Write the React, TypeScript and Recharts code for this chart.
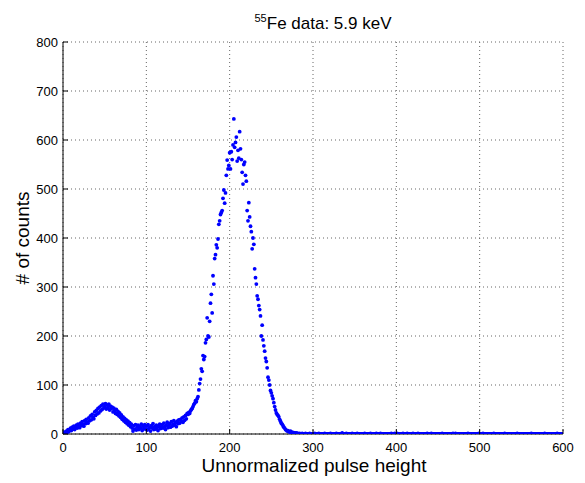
import React from "react";
import { ScatterChart, Scatter, XAxis, YAxis, CartesianGrid } from "recharts";

// histogram counts, one value per pulse-height bin (bin index = pulse height)
const counts000 = [
  2, 0, 4, 1, 6, 3, 9, 5, 8, 12,
  7, 14, 10, 16, 9, 13, 18, 12, 20, 15,
  13, 22, 17, 25, 19, 16, 27, 21, 30, 24,
  22, 33, 27, 37, 29, 40, 34, 31, 45, 38,
  48, 41, 52, 43, 55, 47, 58, 50, 61, 53,
  56, 62, 51, 59, 54, 61, 49, 57, 52, 55,
  45, 53, 48, 42, 50, 40, 46, 37, 43, 34,
  39, 30, 35, 27, 32, 24, 29, 21, 26, 18,
  23, 15, 20, 12, 6, 17, 10, 19, 8, 14,
  18, 9, 15, 12, 20, 7, 16, 11, 19, 10,
];
const counts100 = [
  16, 8, 19, 11, 14, 6, 17, 12, 21, 9,
  15, 10, 18, 13, 7, 16, 20, 11, 14, 19,
  12, 22, 15, 9, 18, 24, 13, 17, 21, 14,
  25, 16, 20, 27, 18, 23, 15, 26, 21, 29,
  22, 30, 26, 33, 24, 35, 28, 38, 31, 42,
  40, 44, 42, 47, 50, 52, 56, 60, 63, 68,
  66, 72, 76, 90, 103, 112, 133, 128, 160, 152,
  158, 186, 193, 237, 200, 198, 230, 267, 285, 247,
  323, 306, 358, 366, 386, 380, 398, 428, 435, 448,
  452, 456, 481, 498, 471, 492, 528, 559, 541, 548,
];
const counts200 = [
  574, 541, 576, 560, 590, 643, 585, 595, 606, 557,
  579, 563, 617, 582, 560, 534, 510, 550, 555, 528,
  516, 456, 435, 472, 443, 424, 413, 378, 400, 387,
  337, 319, 306, 282, 275, 262, 254, 241, 200, 222,
  192, 180, 169, 155, 148, 135, 116, 110, 100, 89,
  84, 78, 72, 64, 56, 49, 43, 40, 38, 35,
  30, 26, 22, 20, 17, 14, 12, 9, 8, 6,
  7, 5, 4, 6, 3, 4, 2, 3, 2, 1,
  2, 1, 1, 0, 1, 0, 0, 1, 0, 0,
  0, 1, 0, 0, 0, 0, 1, 0, 0, 0,
];
const counts300 = [
  0, 0, 1, 0, 0, 0, 0, 1, 0, 0,
  0, 0, 0, 0, 1, 0, 0, 0, 0, 0,
  0, 1, 0, 0, 0, 0, 0, 0, 1, 0,
  0, 0, 0, 0, 0, 2, 0, 0, 0, 0,
  1, 0, 0, 0, 0, 0, 0, 1, 0, 0,
  0, 0, 0, 1, 0, 0, 0, 0, 0, 0,
  0, 0, 1, 0, 0, 0, 0, 0, 0, 1,
  0, 0, 0, 0, 0, 0, 1, 0, 0, 0,
  0, 1, 0, 0, 0, 0, 0, 0, 0, 0,
  0, 0, 0, 0, 1, 0, 0, 0, 1, 0,
];
const counts400 = [
  0, 1, 0, 0, 0, 0, 0, 0, 1, 0,
  0, 0, 0, 1, 0, 0, 0, 0, 0, 0,
  1, 0, 0, 0, 0, 0, 1, 0, 0, 0,
  0, 0, 0, 0, 0, 0, 0, 1, 0, 0,
  0, 0, 1, 0, 0, 0, 0, 0, 0, 0,
  0, 0, 0, 0, 0, 1, 0, 0, 0, 0,
  0, 0, 0, 0, 0, 0, 0, 0, 1, 0,
  0, 1, 0, 0, 0, 0, 0, 0, 0, 0,
  0, 0, 0, 0, 0, 0, 1, 0, 0, 0,
  0, 0, 0, 0, 0, 0, 0, 0, 0, 1,
];
const counts500 = [
  0, 0, 0, 0, 1, 0, 0, 0, 0, 0,
  0, 0, 0, 0, 0, 0, 0, 1, 0, 0,
  0, 0, 0, 0, 0, 0, 0, 0, 0, 0,
  1, 0, 0, 0, 0, 0, 0, 0, 0, 0,
  0, 0, 0, 0, 0, 1, 0, 0, 0, 0,
  0, 0, 0, 0, 0, 0, 0, 0, 0, 0,
  0, 0, 1, 0, 0, 0, 0, 0, 0, 0,
  0, 0, 0, 0, 0, 0, 0, 0, 1, 0,
  0, 0, 0, 0, 0, 0, 0, 0, 0, 0,
  0, 0, 0, 1, 0, 0, 0, 0, 0, 0,
];

const xTicks = [0, 100, 200, 300, 400, 500, 600];
const yTicks = [0, 100, 200, 300, 400, 500, 600, 700, 800];

const data = [...counts000, ...counts100, ...counts200, ...counts300, ...counts400, ...counts500].map(
  (c, i) => ({ x: i, y: c })
);

const FONT = '"Liberation Sans", Arial, Helvetica, sans-serif';
const X_MARGIN = 9;
const Y_MARGIN = 5;
const TICK_LEN = 5;

const BottomTick = (props: any) => {
  const { x, y, payload } = props;
  const axisY = y - X_MARGIN;
  return (
    <g>
      <line x1={x} x2={x} y1={axisY} y2={axisY - TICK_LEN} stroke="#000" />
      <text x={x} y={y} dy="0.71em" textAnchor="middle" fontSize={13} fontFamily={FONT} fill="#000">
        {payload.value}
      </text>
    </g>
  );
};

const LeftTick = (props: any) => {
  const { x, y, payload } = props;
  const axisX = x + Y_MARGIN;
  return (
    <g>
      <line x1={axisX} x2={axisX + TICK_LEN} y1={y} y2={y} stroke="#000" />
      <text x={x} y={y} dy="0.355em" textAnchor="end" fontSize={13} fontFamily={FONT} fill="#000">
        {payload.value}
      </text>
    </g>
  );
};

const TopTick = (props: any) => {
  const { x, y } = props;
  return <line x1={x} x2={x} y1={y} y2={y + TICK_LEN} stroke="#000" />;
};

const RightTick = (props: any) => {
  const { x, y } = props;
  return <line x1={x} x2={x - TICK_LEN} y1={y} y2={y} stroke="#000" />;
};

const Dot = (props: any) => {
  const { cx, cy } = props;
  return <circle cx={cx} cy={cy} r={1.9} fill="#0000ff" />;
};

export default function App() {
  return (
    <div style={{ position: "relative", width: 585, height: 483, background: "#fff" }}>
      <style>{"body{margin:0;}"}</style>
      <ScatterChart width={585} height={483} margin={{ top: 42, right: 22, bottom: 19, left: 13 }}>
        <CartesianGrid stroke="#666" strokeDasharray="1 3" />
        <XAxis
          type="number"
          dataKey="x"
          domain={[0, 600]}
          ticks={xTicks}
          interval={0}
          height={30}
          tickSize={0}
          tickMargin={X_MARGIN}
          tick={BottomTick}
          axisLine={{ stroke: "#000" }}
          allowDataOverflow
        />
        <YAxis
          type="number"
          dataKey="y"
          domain={[0, 800]}
          ticks={yTicks}
          interval={0}
          width={50}
          tickSize={0}
          tickMargin={Y_MARGIN}
          tick={LeftTick}
          axisLine={{ stroke: "#000" }}
          allowDataOverflow
        />
        <XAxis
          xAxisId="top"
          orientation="top"
          type="number"
          domain={[0, 600]}
          ticks={xTicks}
          interval={0}
          height={0}
          tickSize={0}
          tickMargin={0}
          tick={TopTick}
          axisLine={{ stroke: "#000" }}
          allowDataOverflow
        />
        <YAxis
          yAxisId="right"
          orientation="right"
          type="number"
          domain={[0, 800]}
          ticks={yTicks}
          interval={0}
          width={0}
          tickSize={0}
          tickMargin={0}
          tick={RightTick}
          axisLine={{ stroke: "#000" }}
          allowDataOverflow
        />
        <Scatter data={data} shape={Dot} isAnimationActive={false} />
      </ScatterChart>
      <svg
        width={585}
        height={483}
        style={{ position: "absolute", left: 0, top: 0, pointerEvents: "none" }}
        fontFamily={FONT}
      >
        <text x={323} y={29} textAnchor="middle" fontSize={17} fill="#000">
          <tspan fontSize={11} dy={-7}>55</tspan>
          <tspan dy={7}>Fe data: 5.9 keV</tspan>
        </text>
        <text x={314} y={472} textAnchor="middle" fontSize={19} fill="#000">
          Unnormalized pulse height
        </text>
        <text
          x={29}
          y={238}
          textAnchor="middle"
          fontSize={19}
          fill="#000"
          transform="rotate(-90 29 238)"
        >
          # of counts
        </text>
      </svg>
    </div>
  );
}
